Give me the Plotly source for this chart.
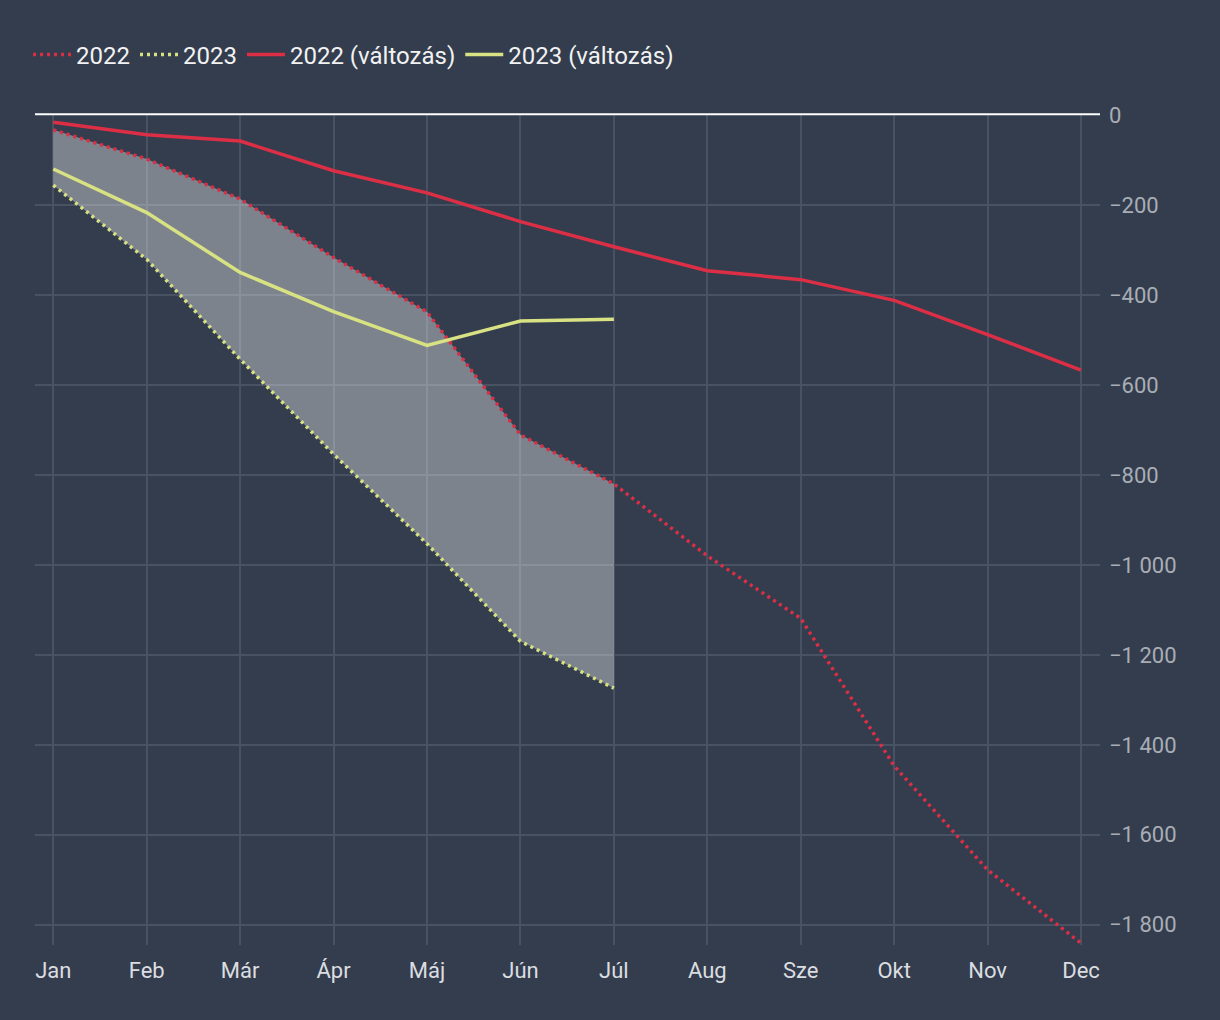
import plotly.graph_objects as go

months = ["Jan", "Feb", "Már", "Ápr", "Máj", "Jún", "Júl", "Aug", "Sze", "Okt", "Nov", "Dec"]
y2022 = [-33, -98, -187, -317, -438, -711, -820, -980, -1119, -1447, -1678, -1841]
y2023 = [-156, -321, -543, -754, -953, -1170, -1274]
chg2022 = [-16, -44, -58, -124, -173, -237, -293, -346, -366, -412, -488, -567]
chg2023 = [-120, -217, -350, -437, -512, -458, -454]
ytick_vals = [0, -200, -400, -600, -800, -1000, -1200, -1400, -1600, -1800]
ytick_text = ["0", "−200", "−400", "−600", "−800", "−1 000", "−1 200", "−1 400", "−1 600", "−1 800"]

RED = "#dc2f45"
YEL = "#d8e283"
BG = "#333d4e"
GRID = "#485263"

n23 = len(y2023)
fig = go.Figure()
fig.add_trace(go.Scatter(
    x=months[:n23] + months[:n23][::-1],
    y=y2022[:n23] + y2023[::-1],
    fill="toself", fillcolor="rgba(255,255,255,0.36)",
    line=dict(width=0), mode="lines", showlegend=False, hoverinfo="skip"))
fig.add_trace(go.Scatter(x=months, y=y2022, name="2022", mode="lines",
                         line=dict(color=RED, width=3.5, dash="3px,4px")))
fig.add_trace(go.Scatter(x=months[:n23], y=y2023, name="2023", mode="lines",
                         line=dict(color=YEL, width=3.5, dash="3px,4px")))
fig.add_trace(go.Scatter(x=months, y=chg2022, name="2022 (változás)", mode="lines",
                         line=dict(color=RED, width=3.5)))
fig.add_trace(go.Scatter(x=months[:n23], y=chg2023, name="2023 (változás)", mode="lines",
                         line=dict(color=YEL, width=3.5)))

fig.add_shape(type="line", xref="paper", x0=0, x1=1, yref="paper", y0=1.001, y1=1.001,
              line=dict(color="white", width=2), layer="above")

fig.update_layout(
    width=1220, height=1020,
    paper_bgcolor=BG, plot_bgcolor=BG,
    margin=dict(l=35, r=120, t=115, b=75),
    font=dict(family="Roboto", size=22, color="#dcdde0"),
    showlegend=True,
    legend=dict(orientation="h", xref="container", yref="container",
                x=0.023, y=1 - 55 / 1020, xanchor="left", yanchor="middle",
                font=dict(size=24, color="#f2f2f2"), bgcolor="rgba(0,0,0,0)",
                itemwidth=38, tracegroupgap=0),
    xaxis=dict(type="category", range=[-0.196, 11.203], showgrid=True,
               gridcolor=GRID, gridwidth=2, zeroline=False, showline=False,
               tickfont=dict(size=22, color="#dcdde0"), ticklabelstandoff=10,
               fixedrange=True),
    yaxis=dict(side="right", range=[-1845, 0], tickvals=ytick_vals, ticktext=ytick_text,
               showgrid=True, gridcolor=GRID, gridwidth=2, zeroline=False,
               showline=False, tickfont=dict(size=22, color="#a9adb5"),
               ticklabelstandoff=8, fixedrange=True),
)

fig.write_html("out.html", config={"displayModeBar": False},
               post_script="document.body.style.margin='0';document.body.style.background='%s';" % BG)
